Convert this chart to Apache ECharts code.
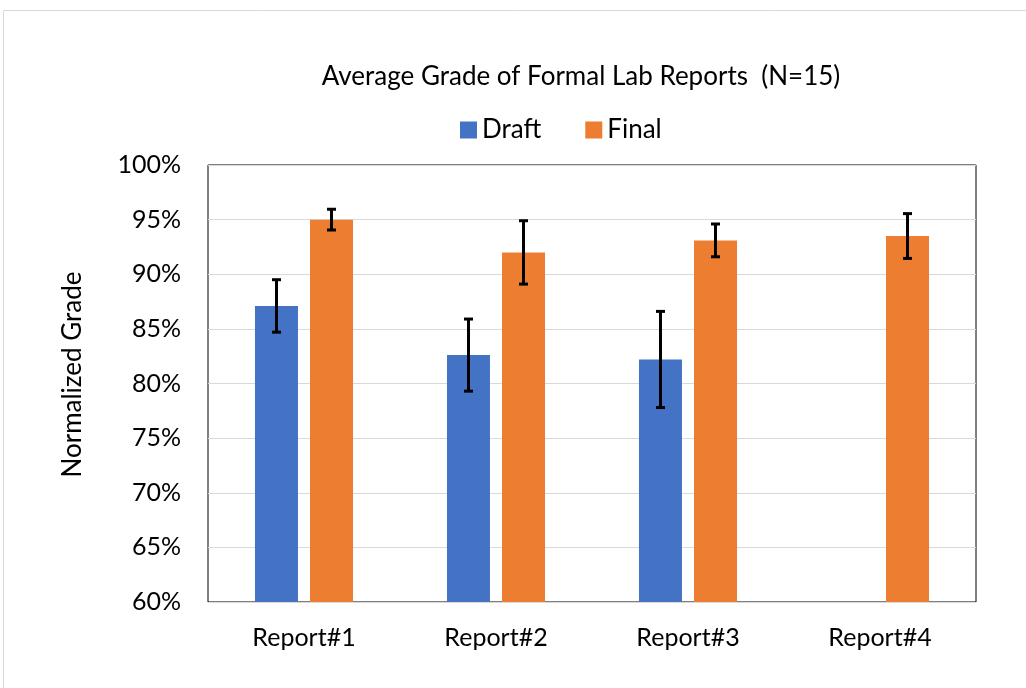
<!DOCTYPE html>
<html>
<head>
<meta charset="utf-8">
<script src="https://cdn.jsdelivr.net/npm/echarts@6/dist/echarts.min.js"></script>
<style>
  html, body { margin: 0; padding: 0; background: #fff; }
  #main { width: 1026px; height: 688px; }
</style>
</head>
<body>
<div id="main"></div>
<script>
// data
var categories = ['Report#1', 'Report#2', 'Report#3', 'Report#4'];
var draftMean = [87.1, 82.6, 82.2, null];
var draftErr = [2.4, 3.3, 4.4, null];
var finalMean = [95.0, 92.0, 93.1, 93.5];
var finalErr = [0.95, 2.9, 1.5, 2.05];
var yTicks = [60, 65, 70, 75, 80, 85, 90, 95, 100];

var FONT = 'Lato';
var BAR_W = 43;
var BAR_GAP = 0.28;

// error bar data: [category index, low, high]
function errData(mean, err) {
  var out = [];
  for (var i = 0; i < mean.length; i++) {
    if (mean[i] == null) continue;
    out.push([i, mean[i] - err[i], mean[i] + err[i]]);
  }
  return out;
}

function errorSeries(name, mean, err, dir) {
  return {
    name: name,
    type: 'custom',
    z: 10,
    silent: true,
    renderItem: function (params, api) {
      var off = dir * (BAR_W + BAR_W * BAR_GAP) / 2;
      var lo = api.coord([api.value(0), api.value(1)]);
      var hi = api.coord([api.value(0), api.value(2)]);
      var x = lo[0] + off;
      var cap = 4.5;
      var st = { stroke: '#000', lineWidth: 3 };
      return {
        type: 'group',
        children: [
          { type: 'line', shape: { x1: x, y1: hi[1], x2: x, y2: lo[1] }, style: st },
          { type: 'line', shape: { x1: x - cap, y1: hi[1], x2: x + cap, y2: hi[1] }, style: st },
          { type: 'line', shape: { x1: x - cap, y1: lo[1], x2: x + cap, y2: lo[1] }, style: st }
        ]
      };
    },
    encode: { x: 0, y: [1, 2] },
    data: errData(mean, err)
  };
}

var myChart = echarts.init(document.getElementById('main'));
myChart.setOption({
  animation: false,
  textStyle: { fontFamily: FONT },
  graphic: [{
    type: 'rect',
    shape: { x: 3.5, y: 10.5, width: 1100, height: 800 },
    style: { fill: 'none', stroke: '#d9d9d9', lineWidth: 1 }
  }],
  title: {
    text: 'Average Grade of Formal Lab Reports  (N=15)',
    left: 576, textAlign: 'center', top: 59,
    textStyle: { fontFamily: FONT, fontSize: 26, fontWeight: 'normal', color: '#000' }
  },
  legend: {
    data: ['Draft', 'Final'],
    top: 112, left: 455,
    itemWidth: 17, itemHeight: 17, itemGap: 44,
    icon: 'rect',
    textStyle: { fontFamily: FONT, fontSize: 26, color: '#000' }
  },
  grid: {
    left: 208, right: 50, top: 165, bottom: 86,
    show: true, borderColor: '#000', borderWidth: 1
  },
  xAxis: {
    type: 'category',
    data: categories,
    axisLine: { show: false },
    axisTick: { show: false },
    axisLabel: { fontFamily: FONT, fontSize: 25, color: '#000', margin: 23 }
  },
  yAxis: {
    type: 'value',
    min: yTicks[0], max: yTicks[yTicks.length - 1], interval: 5,
    name: 'Normalized Grade',
    nameLocation: 'middle',
    nameGap: 122,
    nameTextStyle: { fontFamily: FONT, fontSize: 26, color: '#000', padding: [0, 0, 0, 18] },
    axisLine: { show: false },
    axisTick: { show: false },
    splitLine: { lineStyle: { color: '#d9d9d9', width: 1 } },
    axisLabel: { fontFamily: FONT, fontSize: 25, color: '#000', margin: 27,
      formatter: function (v) { return v + '%'; } }
  },
  series: [
    { name: 'Draft', type: 'bar', data: draftMean, barWidth: BAR_W, barGap: (BAR_GAP * 100) + '%',
      itemStyle: { color: '#4472c4' } },
    { name: 'Final', type: 'bar', data: finalMean, barWidth: BAR_W,
      itemStyle: { color: '#ed7d31' } },
    errorSeries('DraftErr', draftMean, draftErr, -1),
    errorSeries('FinalErr', finalMean, finalErr, 1)
  ]
});
</script>
</body>
</html>
